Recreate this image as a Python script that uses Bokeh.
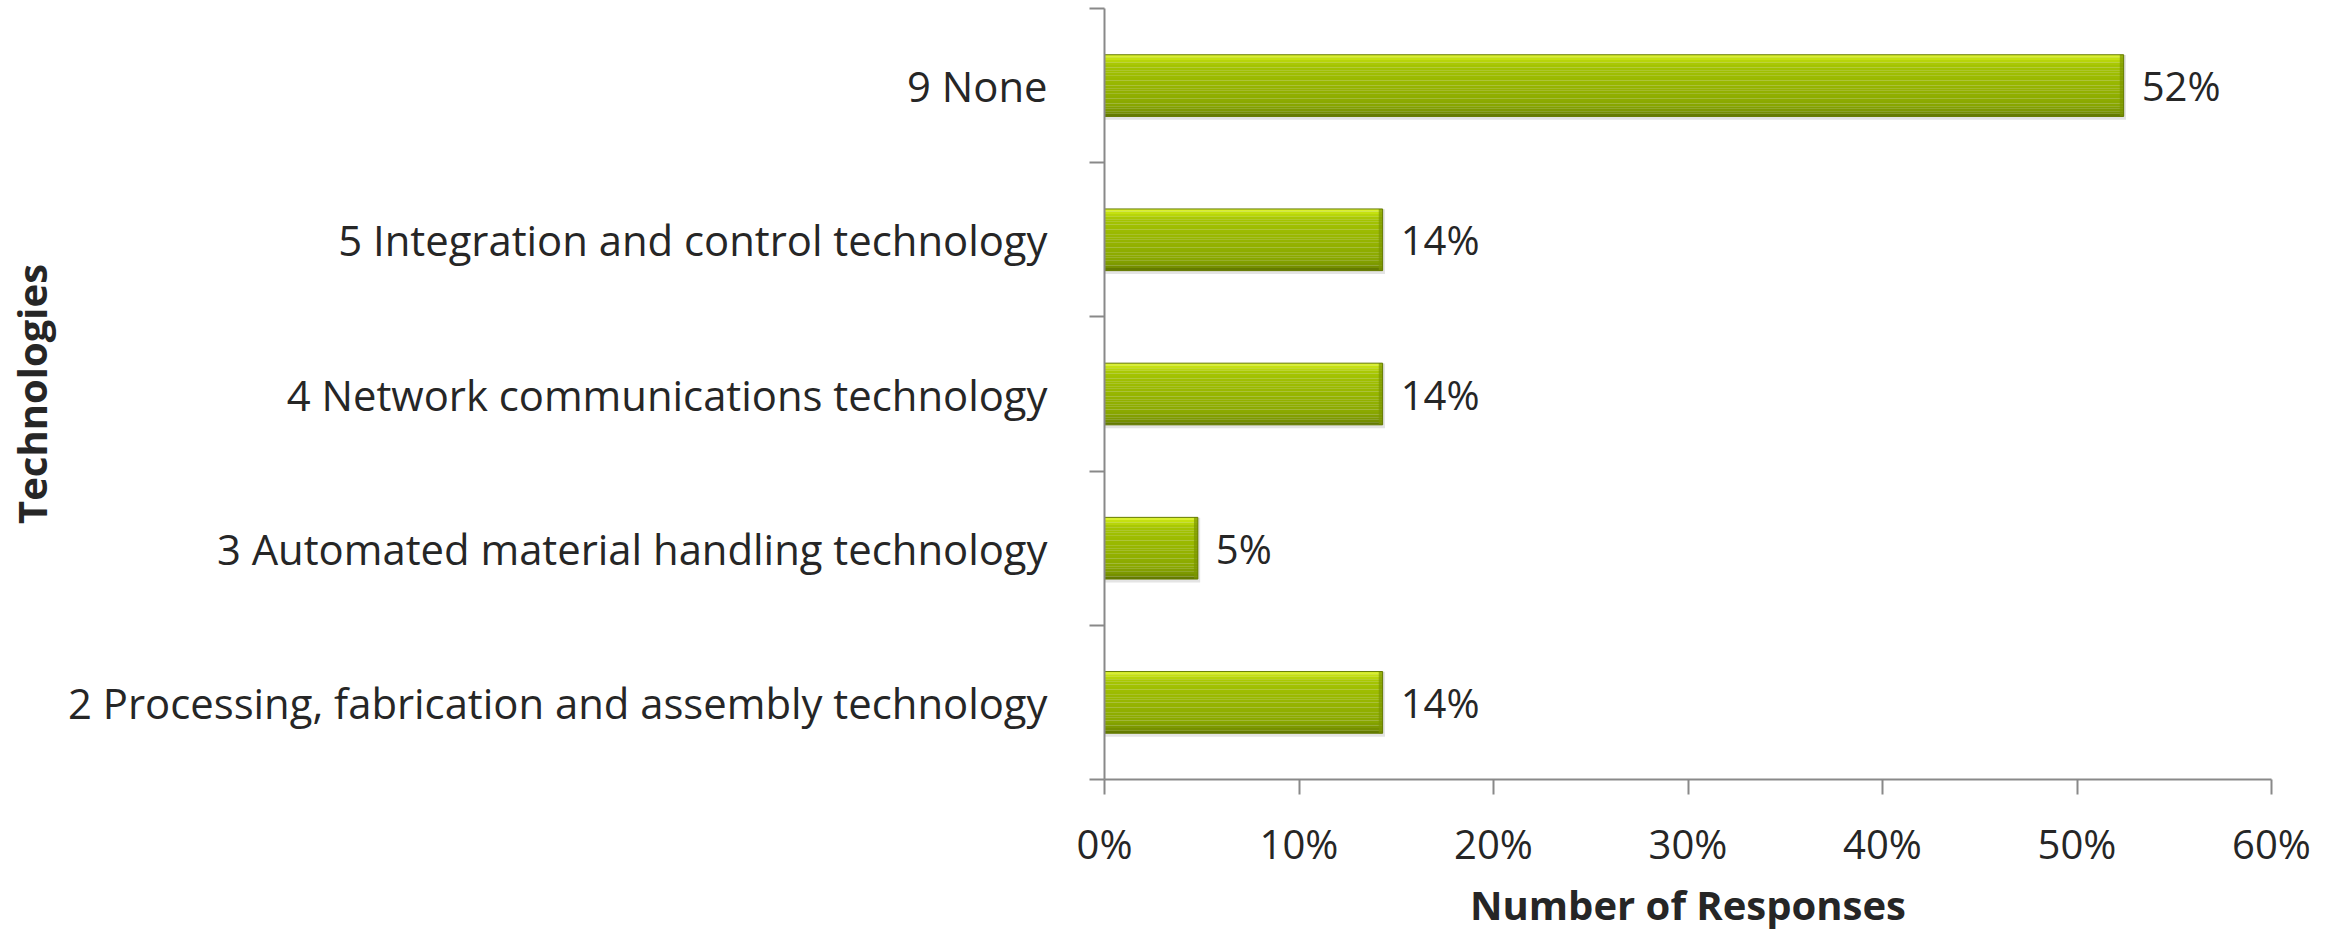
from bokeh.plotting import figure
from bokeh.models import ColumnDataSource, FixedTicker, LinearAxis, Range1d
from bokeh.core.properties import value
from bokeh.embed import file_html
from bokeh.resources import INLINE

# ---- data (bottom to top) ----
categories = [
    "2 Processing, fabrication and assembly technology",
    "3 Automated material handling technology",
    "4 Network communications technology",
    "5 Integration and control technology",
    "9 None",
]
responses_pct = [14.3, 4.8, 14.3, 14.3, 52.4]
x_ticks = [0, 10, 20, 30, 40, 50, 60]
x_tick_labels = ["0%", "10%", "20%", "30%", "40%", "50%", "60%"]

FONT = "Open Sans"
TXT = "#262626"
AXC = "#898989"

n = len(categories)
pos = [i + 0.5 for i in range(n)]
labels = [f"{round(v)}%" for v in responses_pct]

p = figure(width=2343, height=934, x_range=Range1d(0, 60), y_range=Range1d(0, n),
           output_backend="svg", toolbar_location=None,
           min_border_left=1104, min_border_right=72, min_border_top=8, min_border_bottom=150,
           x_axis_type=None, y_axis_type=None)
p.outline_line_color = None
p.grid.visible = False
p.background_fill_color = "white"
p.border_fill_color = "white"

# bar styling: vertical gradient built from colour stops (top -> bottom)
stops = [(0.00, (0xe4, 0xf7, 0x40)), (0.06, (0xc6, 0xe2, 0x10)), (0.16, (0xa4, 0xc4, 0x02)),
         (0.45, (0x98, 0xb7, 0x00)), (0.80, (0x8a, 0xa8, 0x00)), (0.93, (0x78, 0x93, 0x00)),
         (1.00, (0x5c, 0x71, 0x00))]


def grad(t):
    for (t0, c0), (t1, c1) in zip(stops[:-1], stops[1:]):
        if t0 <= t <= t1:
            f = (t - t0) / (t1 - t0)
            return "#%02x%02x%02x" % tuple(int(round(a + (b - a) * f)) for a, b in zip(c0, c1))
    return "#%02x%02x%02x" % stops[-1][1]


half = 0.2
src = ColumnDataSource(dict(y=pos, v=responses_pct, lab=labels, cat=categories))
# soft shadow
p.hbar(y=[y - 0.012 for y in pos], right=[v + 0.12 for v in responses_pct], left=0,
       height=2 * half + 0.02, fill_color="#e4e4e4", line_color=None)
nstrip = 24
for k in range(nstrip):
    a, b = k / nstrip, (k + 1) / nstrip
    top = [y + half - 2 * half * a for y in pos]
    bot = [y + half - 2 * half * b for y in pos]
    p.quad(left=0, right=responses_pct, top=top, bottom=bot,
           fill_color=grad((a + b) / 2), line_color=None)
# right bevel
p.quad(left=[v - 0.2 for v in responses_pct], right=responses_pct,
       top=[y + half for y in pos], bottom=[y - half for y in pos],
       fill_color="#7a9500", line_color=None, fill_alpha=0.7)
p.hbar(y="y", right="v", left=0, height=2 * half, source=src,
       fill_color=None, line_color="#647a00", line_width=1)

# value labels
p.text(x="v", y="y", text="lab", source=src, x_offset=18,
       text_font=value(FONT), text_font_size="40px", text_color=TXT,
       text_align="left", text_baseline="middle")

# x axis
xa = LinearAxis(ticker=FixedTicker(ticks=x_ticks, minor_ticks=[]),
                major_label_overrides={t: l for t, l in zip(x_ticks, x_tick_labels)})
xa.axis_label = "Number of Responses"
xa.axis_label_text_font = FONT
xa.axis_label_text_font_style = "bold"
xa.axis_label_text_font_size = "40px"
xa.axis_label_text_color = TXT
xa.axis_label_standoff = 3
xa.major_label_text_font = FONT
xa.major_label_text_font_size = "40px"
xa.major_label_text_color = TXT
xa.major_label_standoff = 21
xa.axis_line_color = AXC
xa.axis_line_width = 2
xa.major_tick_line_color = AXC
xa.major_tick_line_width = 2
xa.major_tick_in = 0
xa.major_tick_out = 15
xa.minor_tick_out = 0
xa.minor_tick_in = 0
p.add_layout(xa, "below")

# y axis: labels at band centres, tick marks at band boundaries
ya = LinearAxis(ticker=FixedTicker(ticks=pos, minor_ticks=list(range(n + 1))),
                major_label_overrides={y: c for y, c in zip(pos, categories)})
ya.axis_label = "Technologies"
ya.axis_label_text_font = FONT
ya.axis_label_text_font_style = "bold"
ya.axis_label_text_font_size = "40px"
ya.axis_label_text_color = TXT
ya.axis_label_standoff = 6
ya.major_label_text_font = FONT
ya.major_label_text_font_size = "41.8px"
ya.major_label_text_color = TXT
ya.major_label_standoff = 42
ya.axis_line_color = AXC
ya.axis_line_width = 2
ya.major_tick_in = 0
ya.major_tick_out = 0
ya.major_tick_line_color = None
ya.minor_tick_in = 0
ya.minor_tick_out = 15
ya.minor_tick_line_color = AXC
ya.minor_tick_line_width = 2
p.add_layout(ya, "left")

open("out.html", "w").write(file_html(p, INLINE))
